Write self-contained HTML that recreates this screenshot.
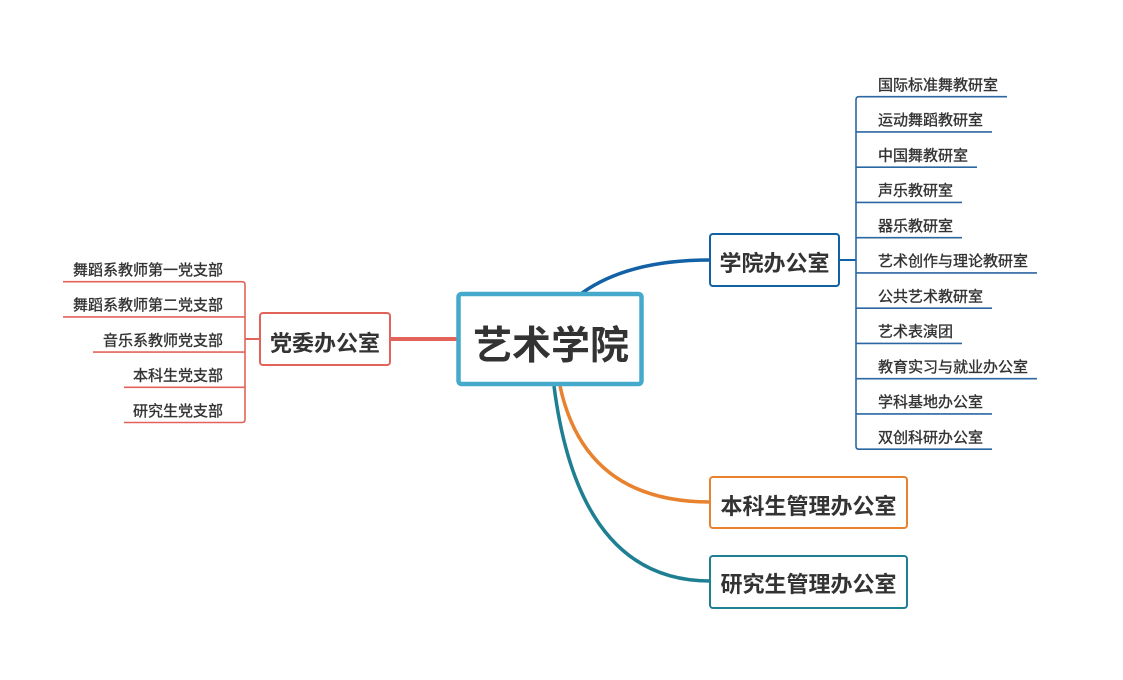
<!DOCTYPE html>
<html>
<head>
<meta charset="utf-8">
<style>
html,body{margin:0;padding:0;background:#fff;}
svg{display:block;}
text{font-family:"Liberation Sans","Noto Sans CJK SC",sans-serif;fill:#333;}
.sub{font-size:15px;stroke:#333;stroke-width:0.35px;}
.mid{font-size:22px;font-weight:bold;}
</style>
</head>
<body>
<svg width="1123" height="680" viewBox="0 0 1123 680" xmlns="http://www.w3.org/2000/svg">
<rect width="1123" height="680" fill="#fff"/>

<!-- main connectors -->
<path d="M582,293 Q628,260 710,260" fill="none" stroke="#1260a6" stroke-width="3.5"/>
<line x1="391" y1="339" x2="458" y2="339" stroke="#e2635a" stroke-width="4"/>
<path d="M560,386 Q585,502 710,502" fill="none" stroke="#e8822e" stroke-width="3.5"/>
<path d="M554,386 Q579,581 710,581" fill="none" stroke="#1e7f93" stroke-width="3.5"/>

<!-- central -->
<rect x="458.5" y="294" width="183" height="90" rx="3" fill="#fff" stroke="#45a9cc" stroke-width="4.5"/>
<text x="551" y="359" text-anchor="middle" style="font-size:39px;font-weight:bold;">艺术学院</text>

<!-- 学院办公室 -->
<rect x="710" y="234" width="129" height="52" rx="3" fill="#fff" stroke="#1260a6" stroke-width="2"/>
<text x="774.5" y="271" text-anchor="middle" class="mid">学院办公室</text>

<!-- right children -->
<g fill="none" stroke="#2b67a2" stroke-width="1.6">
<line x1="840" y1="260" x2="856" y2="260" stroke="#1260a6" stroke-width="2"/>
<path d="M1007,96.7 H859 Q856,96.7 856,99.7 V446.2 Q856,449.2 859,449.2 H992"/>
<line x1="856" y1="131.9" x2="992" y2="131.9"/>
<line x1="856" y1="167.2" x2="977" y2="167.2"/>
<line x1="856" y1="202.4" x2="962" y2="202.4"/>
<line x1="856" y1="237.7" x2="962" y2="237.7"/>
<line x1="856" y1="272.9" x2="1037" y2="272.9"/>
<line x1="856" y1="308.2" x2="992" y2="308.2"/>
<line x1="856" y1="343.4" x2="962" y2="343.4"/>
<line x1="856" y1="378.7" x2="1037" y2="378.7"/>
<line x1="856" y1="413.9" x2="992" y2="413.9"/>
</g>
<g>
<text x="878" y="90" class="sub">国际标准舞教研室</text>
<text x="878" y="125.2" class="sub">运动舞蹈教研室</text>
<text x="878" y="160.5" class="sub">中国舞教研室</text>
<text x="878" y="195.7" class="sub">声乐教研室</text>
<text x="878" y="231" class="sub">器乐教研室</text>
<text x="878" y="266.2" class="sub">艺术创作与理论教研室</text>
<text x="878" y="301.5" class="sub">公共艺术教研室</text>
<text x="878" y="336.7" class="sub">艺术表演团</text>
<text x="878" y="372" class="sub">教育实习与就业办公室</text>
<text x="878" y="407.2" class="sub">学科基地办公室</text>
<text x="878" y="442.5" class="sub">双创科研办公室</text>
</g>

<!-- 党委办公室 -->
<rect x="260" y="313" width="130" height="52" rx="3" fill="#fff" stroke="#e2635a" stroke-width="2"/>
<text x="325" y="351" text-anchor="middle" class="mid">党委办公室</text>

<g fill="none" stroke="#e2635a" stroke-width="1.6">
<line x1="245" y1="339" x2="260" y2="339" stroke-width="2"/>
<path d="M63,281.7 H242 Q245,281.7 245,284.7 V419.5 Q245,422.5 242,422.5 H124"/>
<line x1="63" y1="316.9" x2="245" y2="316.9"/>
<line x1="93" y1="352.1" x2="245" y2="352.1"/>
<line x1="124" y1="387.3" x2="245" y2="387.3"/>
</g>
<text x="223" y="275" text-anchor="end" class="sub">舞蹈系教师第一党支部</text>
<text x="223" y="310.2" text-anchor="end" class="sub">舞蹈系教师第二党支部</text>
<text x="223" y="345.4" text-anchor="end" class="sub">音乐系教师党支部</text>
<text x="223" y="380.6" text-anchor="end" class="sub">本科生党支部</text>
<text x="223" y="415.8" text-anchor="end" class="sub">研究生党支部</text>

<!-- bottom boxes -->
<rect x="710" y="477" width="197" height="51" rx="3" fill="#fff" stroke="#e8822e" stroke-width="2"/>
<text x="808.5" y="514" text-anchor="middle" class="mid">本科生管理办公室</text>
<rect x="710" y="556" width="197" height="52" rx="3" fill="#fff" stroke="#1e7f93" stroke-width="2"/>
<text x="808.5" y="592" text-anchor="middle" class="mid">研究生管理办公室</text>
</svg>
</body>
</html>
